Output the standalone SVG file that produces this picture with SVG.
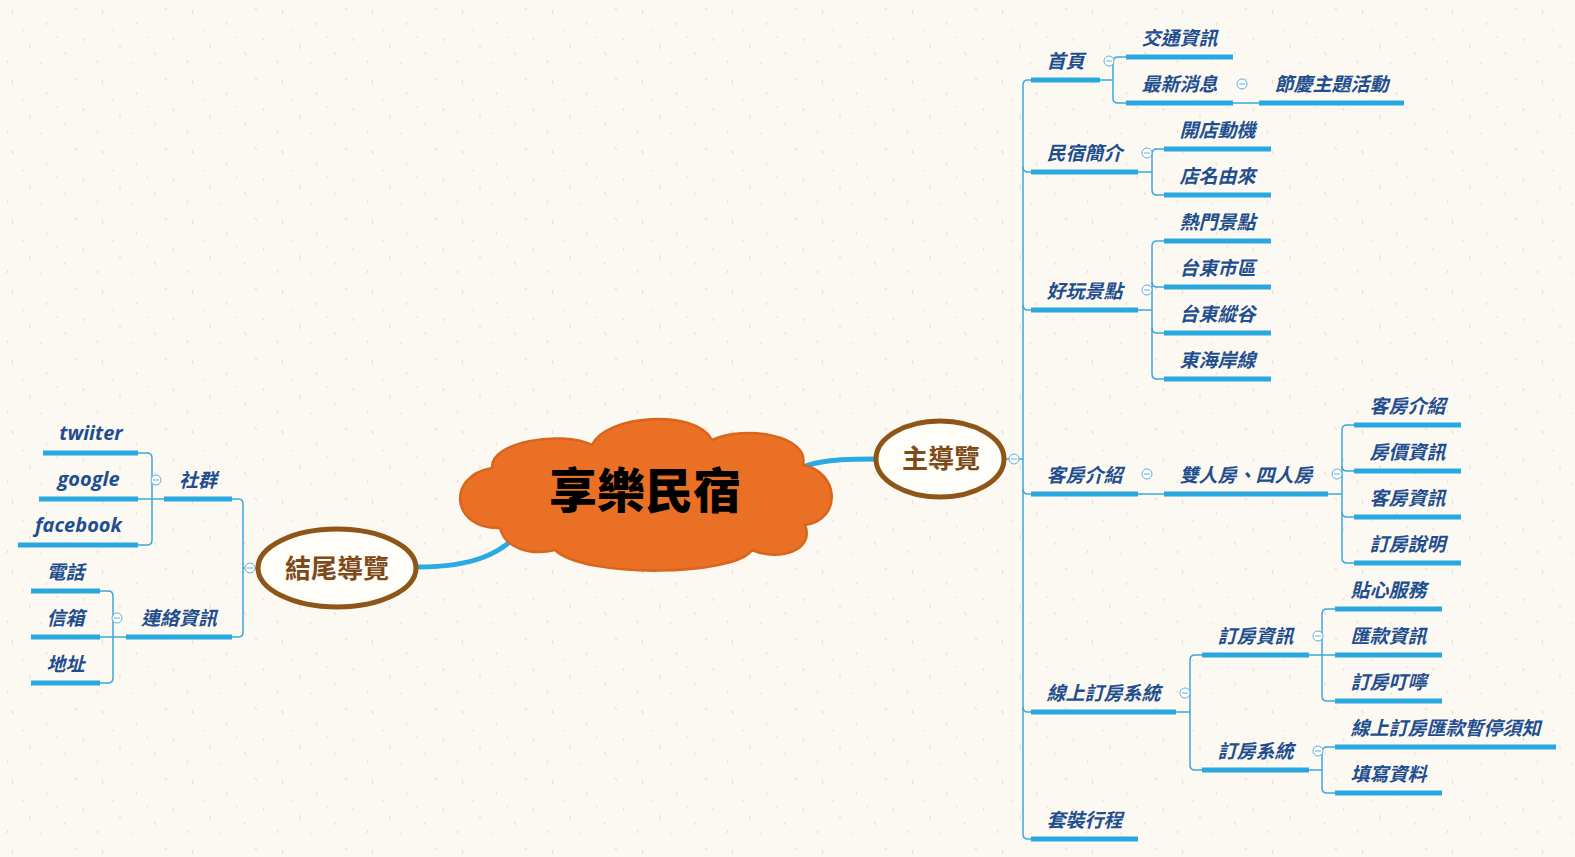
<svg xmlns="http://www.w3.org/2000/svg" width="1575" height="857" viewBox="0 0 1575 857">
<defs>
<style>
.ul{stroke:#29A8E0;stroke-width:5;fill:none}
.cn{stroke:#3DA7DB;stroke-width:1.5;fill:none}
.big{stroke:#2AAAE2;stroke-width:5;fill:none;stroke-linecap:round}
.t{font-family:"Noto Sans CJK TC","Noto Sans CJK SC",sans-serif;font-size:19px;font-weight:700;font-style:italic;fill:#1F4E8E;text-anchor:middle}
.lt{font-family:"Open Sans",sans-serif;font-size:20px;font-weight:700;font-style:italic;fill:#1F4E8E;text-anchor:middle}
.mt{font-family:"Noto Sans CJK TC","Noto Sans CJK SC",sans-serif;font-size:26px;font-weight:700;fill:#7E4A1A;text-anchor:middle}
.ell{fill:#FFFDF8;stroke:#8E5519;stroke-width:5}
.cc{fill:#FFFFFF;stroke:#62ADDA;stroke-width:1}
.cm{stroke:#62ADDA;stroke-width:1}
</style>
<g id="cb"><circle class="cc" cx="0" cy="0" r="5"/><line class="cm" x1="-3" y1="0" x2="3" y2="0"/></g>
<pattern id="bgp" width="90" height="70" patternUnits="userSpaceOnUse">
<rect width="90" height="70" fill="#FCF9F2"/>
<path d="M12 10 l1 4 M47 22 l-1 3 M75 8 l2 2 M30 45 l0 4 M64 52 l2 3 M8 60 l-1 3 M83 38 l1 3" stroke="#EBD6C4" stroke-width="1.2" opacity="0.8"/>
<path d="M22 30 l2 1 M58 36 l-2 2 M40 63 l2 1" stroke="#D9D6D0" stroke-width="1" opacity="0.7"/>
</pattern>
</defs>
<rect width="1575" height="857" fill="url(#bgp)"/>

<g id="connectors">
<path class="big" d="M800 468 C820 460 840 459 877 459"/>
<path class="big" d="M418 567 C470 567 505 555 525 525"/>
<path class="cn" d="M1004 459 H1023"/>
<path class="cn" d="M1031 80 H1028 Q1023 80 1023 85 V834 Q1023 839 1028 839 H1031"/>
<path class="cn" d="M1023 167 Q1023 172 1028 172 H1031"/>
<path class="cn" d="M1023 305 Q1023 310 1028 310 H1031"/>
<path class="cn" d="M1023 489 Q1023 494 1028 494 H1031"/>
<path class="cn" d="M1023 707 Q1023 712 1028 712 H1031"/>
<path class="cn" d="M1100 80 H1113"/>
<path class="cn" d="M1126 57 H1118 Q1113 57 1113 62 V98 Q1113 103 1118 103 H1126"/>
<path class="cn" d="M1233 103 H1259"/>
<path class="cn" d="M1138 172 H1152"/>
<path class="cn" d="M1164 149 H1157 Q1152 149 1152 154 V190 Q1152 195 1157 195 H1164"/>
<path class="cn" d="M1138 310 H1152"/>
<path class="cn" d="M1164 241 H1157 Q1152 241 1152 246 V374 Q1152 379 1157 379 H1164"/>
<path class="cn" d="M1152 282 Q1152 287 1157 287 H1164"/>
<path class="cn" d="M1152 328 Q1152 333 1157 333 H1164"/>
<path class="cn" d="M1138 494 H1164"/>
<path class="cn" d="M1328 494 H1342"/>
<path class="cn" d="M1354 425 H1347 Q1342 425 1342 430 V558 Q1342 563 1347 563 H1354"/>
<path class="cn" d="M1342 466 Q1342 471 1347 471 H1354"/>
<path class="cn" d="M1342 512 Q1342 517 1347 517 H1354"/>
<path class="cn" d="M1176 712 H1190"/>
<path class="cn" d="M1202 655 H1195 Q1190 655 1190 660 V765 Q1190 770 1195 770 H1202"/>
<path class="cn" d="M1309 655 H1335"/>
<path class="cn" d="M1335 609 H1327 Q1322 609 1322 614 V696 Q1322 701 1327 701 H1335"/>
<path class="cn" d="M1309 770 H1322"/>
<path class="cn" d="M1335 747 H1327 Q1322 747 1322 752 V788 Q1322 793 1327 793 H1335"/>
<path class="cn" d="M258 568 H243"/>
<path class="cn" d="M232 499 H238 Q243 499 243 504 V632 Q243 637 238 637 H232"/>
<path class="cn" d="M164 499 H138"/>
<path class="cn" d="M138 453 H147 Q152 453 152 458 V540 Q152 545 147 545 H138"/>
<path class="cn" d="M126 637 H100"/>
<path class="cn" d="M100 591 H108 Q113 591 113 596 V678 Q113 683 108 683 H100"/>
</g>

<g id="n_center">
<path d="M500 528 C452 530 445 476 492 468 C490 442 560 430 592 445 C605 415 695 408 712 440 C745 425 810 435 803 465 C840 472 842 520 805 525 C815 550 780 562 752 550 C735 576 585 579 555 550 C530 556 505 548 500 528 Z" fill="#E97024" stroke="#D9651D" stroke-width="2.5"/>
<text x="645" y="508" font-family="'Noto Sans CJK TC','Noto Sans CJK SC',sans-serif" font-size="48" font-weight="900" fill="#000" text-anchor="middle">享樂民宿</text>
</g>

<g id="n_main">
<ellipse class="ell" cx="940" cy="459" rx="64" ry="38"/>
<text class="mt" x="941" y="468">主導覽</text>
<use href="#cb" x="1014" y="459"/>
</g>
<g id="n_end">
<ellipse class="ell" cx="337" cy="568" rx="79" ry="39"/>
<text class="mt" x="337" y="578">結尾導覽</text>
<use href="#cb" x="250" y="568"/>
</g>

<g id="n_home"><line class="ul" x1="1031" y1="80" x2="1100" y2="80"/><text class="t" x="1065.5" y="68">首頁</text><use href="#cb" x="1109" y="61"/></g>
<g id="n_traffic"><line class="ul" x1="1126" y1="57" x2="1233" y2="57"/><text class="t" x="1179.5" y="45">交通資訊</text></g>
<g id="n_news"><line class="ul" x1="1126" y1="103" x2="1233" y2="103"/><text class="t" x="1179.5" y="91">最新消息</text><use href="#cb" x="1242" y="84"/></g>
<g id="n_festival"><line class="ul" x1="1259" y1="103" x2="1404" y2="103"/><text class="t" x="1331.5" y="91">節慶主題活動</text></g>
<g id="n_intro"><line class="ul" x1="1031" y1="172" x2="1138" y2="172"/><text class="t" x="1084.5" y="160">民宿簡介</text><use href="#cb" x="1147" y="153"/></g>
<g id="n_motive"><line class="ul" x1="1164" y1="149" x2="1271" y2="149"/><text class="t" x="1217.5" y="137">開店動機</text></g>
<g id="n_name"><line class="ul" x1="1164" y1="195" x2="1271" y2="195"/><text class="t" x="1217.5" y="183">店名由來</text></g>
<g id="n_fun"><line class="ul" x1="1031" y1="310" x2="1138" y2="310"/><text class="t" x="1084.5" y="298">好玩景點</text><use href="#cb" x="1147" y="290"/></g>
<g id="n_hot"><line class="ul" x1="1164" y1="241" x2="1271" y2="241"/><text class="t" x="1217.5" y="229">熱門景點</text></g>
<g id="n_city"><line class="ul" x1="1164" y1="287" x2="1271" y2="287"/><text class="t" x="1217.5" y="275">台東市區</text></g>
<g id="n_valley"><line class="ul" x1="1164" y1="333" x2="1271" y2="333"/><text class="t" x="1217.5" y="321">台東縱谷</text></g>
<g id="n_coast"><line class="ul" x1="1164" y1="379" x2="1271" y2="379"/><text class="t" x="1217.5" y="367">東海岸線</text></g>
<g id="n_room"><line class="ul" x1="1031" y1="494" x2="1138" y2="494"/><text class="t" x="1084.5" y="482">客房介紹</text><use href="#cb" x="1147" y="474"/></g>
<g id="n_double"><line class="ul" x1="1164" y1="494" x2="1328" y2="494"/><text class="t" x="1246" y="482">雙人房、四人房</text><use href="#cb" x="1337" y="474"/></g>
<g id="n_roomintro"><line class="ul" x1="1354" y1="425" x2="1461" y2="425"/><text class="t" x="1407.5" y="413">客房介紹</text></g>
<g id="n_price"><line class="ul" x1="1354" y1="471" x2="1461" y2="471"/><text class="t" x="1407.5" y="459">房價資訊</text></g>
<g id="n_roominfo"><line class="ul" x1="1354" y1="517" x2="1461" y2="517"/><text class="t" x="1407.5" y="505">客房資訊</text></g>
<g id="n_booknote"><line class="ul" x1="1354" y1="563" x2="1461" y2="563"/><text class="t" x="1407.5" y="551">訂房說明</text></g>
<g id="n_online"><line class="ul" x1="1031" y1="712" x2="1176" y2="712"/><text class="t" x="1103.5" y="700">線上訂房系統</text><use href="#cb" x="1185" y="693"/></g>
<g id="n_bookinfo"><line class="ul" x1="1202" y1="655" x2="1309" y2="655"/><text class="t" x="1255.5" y="643">訂房資訊</text><use href="#cb" x="1318" y="636"/></g>
<g id="n_booksys"><line class="ul" x1="1202" y1="770" x2="1309" y2="770"/><text class="t" x="1255.5" y="758">訂房系統</text><use href="#cb" x="1318" y="751"/></g>
<g id="n_care"><line class="ul" x1="1335" y1="609" x2="1442" y2="609"/><text class="t" x="1388.5" y="597">貼心服務</text></g>
<g id="n_remit"><line class="ul" x1="1335" y1="655" x2="1442" y2="655"/><text class="t" x="1388.5" y="643">匯款資訊</text></g>
<g id="n_remind"><line class="ul" x1="1335" y1="701" x2="1442" y2="701"/><text class="t" x="1388.5" y="689">訂房叮嚀</text></g>
<g id="n_pause"><line class="ul" x1="1335" y1="747" x2="1556" y2="747"/><text class="t" x="1445.5" y="735">線上訂房匯款暫停須知</text></g>
<g id="n_fill"><line class="ul" x1="1335" y1="793" x2="1442" y2="793"/><text class="t" x="1388.5" y="781">填寫資料</text></g>
<g id="n_package"><line class="ul" x1="1031" y1="839" x2="1138" y2="839"/><text class="t" x="1084.5" y="827">套裝行程</text></g>

<g id="n_social"><line class="ul" x1="164" y1="499" x2="232" y2="499"/><text class="t" x="198" y="487">社群</text><use href="#cb" x="156" y="480"/></g>
<g id="n_twitter"><line class="ul" x1="43" y1="453" x2="138" y2="453"/><text class="lt" x="91" y="440">twiiter</text></g>
<g id="n_google"><line class="ul" x1="39" y1="499" x2="138" y2="499"/><text class="lt" x="88.5" y="486">google</text></g>
<g id="n_facebook"><line class="ul" x1="18" y1="545" x2="138" y2="545"/><text class="lt" x="78.5" y="532">facebook</text></g>
<g id="n_contact"><line class="ul" x1="126" y1="637" x2="232" y2="637"/><text class="t" x="179" y="625">連絡資訊</text><use href="#cb" x="117" y="618"/></g>
<g id="n_phone"><line class="ul" x1="31" y1="591" x2="100" y2="591"/><text class="t" x="65.5" y="579">電話</text></g>
<g id="n_mail"><line class="ul" x1="31" y1="637" x2="100" y2="637"/><text class="t" x="65.5" y="625">信箱</text></g>
<g id="n_addr"><line class="ul" x1="31" y1="683" x2="100" y2="683"/><text class="t" x="65.5" y="671">地址</text></g>
</svg>
